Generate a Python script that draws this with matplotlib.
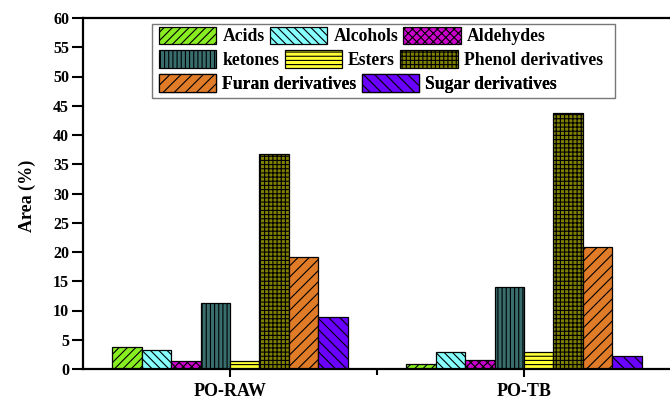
import matplotlib
matplotlib.use("Agg")
import matplotlib.pyplot as plt
from matplotlib.patches import Patch, Rectangle
import numpy as np

plt.rcParams['font.family'] = ['Liberation Serif', 'DejaVu Serif']
plt.rcParams['font.weight'] = 'bold'
plt.rcParams['hatch.linewidth'] = 0.8

samples = ["PO-RAW", "PO-TB"]
compounds = ["Acids", "Alcohols", "Aldehydes", "ketones", "Esters",
             "Phenol derivatives", "Furan derivatives", "Sugar derivatives"]
acids = [3.8, 0.9]
alcohols = [3.3, 2.9]
aldehydes = [1.4, 1.5]
ketones = [11.2, 14.0]
esters = [1.4, 2.9]
phenols = [36.8, 43.7]
furans = [19.2, 20.9]
sugars = [8.9, 2.2]
series = [acids, alcohols, aldehydes, ketones, esters, phenols, furans, sugars]

colors = ["#88EE22", "#88FFFF", "#CC00CC", "#3A6E6E",
          "#FFFF33", "#808000", "#E07B28", "#6A00FF"]
hatches = ["////", "\\\\\\\\", "xxxx", "||||", "----", "++++", "///", "\\\\\\"]

fig = plt.figure(figsize=(6.70, 4.01), dpi=100)
ax = fig.add_axes([83 / 670, 32 / 401, 588 / 670, 351 / 401])

x = np.arange(len(samples))
width = 0.1
handles = []
for i, (vals, c, h, name) in enumerate(zip(series, colors, hatches, compounds)):
    offs = (i - 3.5) * width
    ax.bar(x + offs, vals, width, color=c, hatch=h, edgecolor="black",
           linewidth=0.9)
    handles.append(Patch(facecolor=c, hatch=h, edgecolor="black",
                         linewidth=0.9, label=name))

ax.set_xlim(-0.5, 1.5)
ax.set_ylim(0, 60)
ax.set_yticks(np.arange(0, 61, 5))
ax.set_xticks(x)
ax.set_xticklabels(samples, fontsize=13, fontweight="bold")
ax.set_xticks([0.5], minor=True)
ax.tick_params(axis="y", which="major", length=8, width=1.5,
               labelsize=11.5, direction="out", pad=2)
ax.tick_params(axis="x", which="major", length=6, width=1.5, pad=4)
ax.tick_params(axis="x", which="minor", length=4, width=1.5)
for lab in ax.get_yticklabels():
    lab.set_fontweight("bold")
ax.set_ylabel("Area (%)", fontsize=13, fontweight="bold")
ax.yaxis.set_label_coords(-0.080, 0.494)

for side in ["left", "bottom", "top"]:
    ax.spines[side].set_linewidth(1.6)
ax.spines["right"].set_visible(False)

# legend: three free-flowing rows inside one grey frame
rows = [[0, 1, 2], [3, 4, 5], [6, 7]]
row_tops = [26.7, 50, 74]
to_ax = lambda px, py: ((px - 83) / 588, (369 - py) / 351)
for r, top in zip(rows, row_tops):
    leg = ax.legend([handles[k] for k in r], [compounds[k] for k in r],
                    ncol=len(r), loc="upper left",
                    bbox_to_anchor=to_ax(159, top), frameon=False,
                    fontsize=12.7, handlelength=3.25, handleheight=1.15,
                    handletextpad=0.35, columnspacing=0.3,
                    borderaxespad=0, borderpad=0)
    for t in leg.get_texts():
        t.set_fontweight("bold")
    ax.add_artist(leg)

x0, y0 = to_ax(152, 98)
x1, y1 = to_ax(615, 24)
ax.add_patch(Rectangle((x0, y0), x1 - x0, y1 - y0, transform=ax.transAxes,
                       fill=False, edgecolor="#777777", linewidth=1.0,
                       clip_on=False, zorder=5))

fig.savefig("out.png", dpi=100)
